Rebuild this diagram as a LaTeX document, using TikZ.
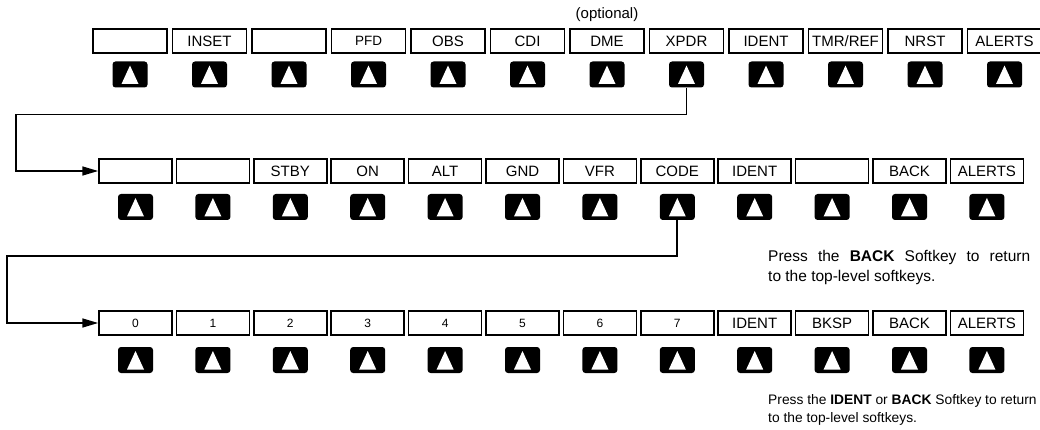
\documentclass[tikz,border=0pt]{standalone}
\usepackage{fontspec}
\setmainfont{Liberation Sans}
\usetikzlibrary{arrows.meta}

\tikzset{
  softbox/.style={draw=black, line width=1.5pt, fill=white, minimum width=74pt,
    minimum height=24pt, inner sep=0pt, font=\fontsize{15}{17}\selectfont},
  softkey/.style={fill=black, rounded corners=3pt, minimum width=35pt,
    minimum height=26pt, inner sep=0pt,
    path picture={\fill[white, sharp corners]
      ([shift={(-8.5pt,-9.5pt)}]path picture bounding box.center) --
      ([shift={(8.5pt,-9.5pt)}]path picture bounding box.center) --
      ([shift={(0pt,9pt)}]path picture bounding box.center) -- cycle;}},
  link/.style={line width=1.7pt, -{Triangle[length=16pt,width=9pt]}},
  note/.style={anchor=west, align=left, inner sep=0pt,
    font=\fontsize{13.8}{18.5}\selectfont}
}

\begin{document}
\begin{tikzpicture}[x=1pt, y=-1pt]
    \useasboundingbox (0,0) rectangle (1040,430);

    % Top-level softkeys
    \foreach \lab [count=\i] in {{},INSET,{},{\fontsize{13.5}{15}\selectfont PFD},OBS,CDI,DME,XPDR,IDENT,TMR/REF,NRST,ALERTS} {
        \node[softbox] (top\i) at ({130+79.5*(\i-1)},41) {\lab};
        \node[softkey] (topkey\i) at ({130+79.5*(\i-1)},74.5) {};
    }
    \node[font=\fontsize{15}{17}\selectfont] (optional) at (607,15) {(optional)};

    % XPDR softkeys
    \foreach \lab [count=\i] in {{},{},STBY,ON,ALT,GND,VFR,CODE,IDENT,{},BACK,ALERTS} {
        \node[softbox, minimum width=73pt] (mid\i) at ({135.5+77.4*(\i-1)},171) {\lab};
        \node[softkey] (midkey\i) at ({135.5+77.4*(\i-1)},207) {};
    }

    % CODE softkeys (digits are set smaller)
    \foreach \lab [count=\i] in {{\fontsize{12}{14}\selectfont 0},{\fontsize{12}{14}\selectfont 1},
        {\fontsize{12}{14}\selectfont 2},{\fontsize{12}{14}\selectfont 3},{\fontsize{12}{14}\selectfont 4},
        {\fontsize{12}{14}\selectfont 5},{\fontsize{12}{14}\selectfont 6},{\fontsize{12}{14}\selectfont 7},
        IDENT,BKSP,BACK,ALERTS} {
        \node[softbox, minimum width=73pt] (low\i) at ({135.5+77.4*(\i-1)},323) {\lab};
        \node[softkey] (lowkey\i) at ({135.5+77.4*(\i-1)},360) {};
    }

    % Connectors
    \coordinate (bend1) at (16,114.5);
    \coordinate (bend2) at (7,256);
    \draw[link] (topkey8.south) |- (bend1) |- (mid1.west);
    \draw[link] (midkey8.south) |- (bend2) |- (low1.west);

    % Notes
    \node[note, font=\fontsize{15.5}{20}\selectfont] (backnote) at (768,267) {\makebox[262pt][s]{Press the \textbf{BACK} Softkey to return}\\to the top-level softkeys.};
    \node[note] (identnote) at (768,410) {Press the \textbf{IDENT} or \textbf{BACK} Softkey to return\\to the top-level softkeys.};
\end{tikzpicture}
\end{document}
